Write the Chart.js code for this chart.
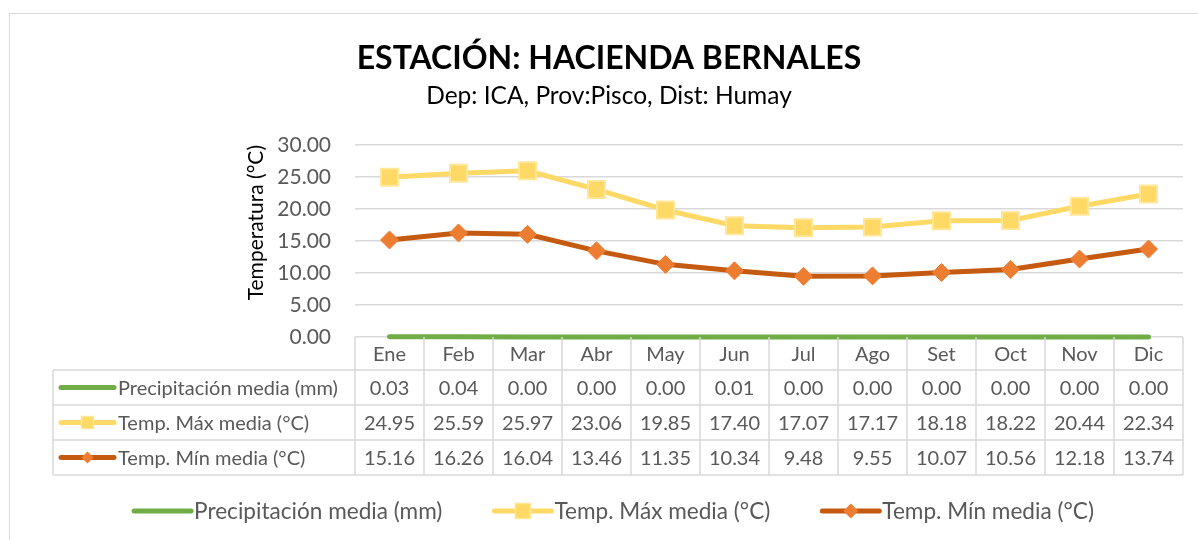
<!DOCTYPE html>
<html>
<head>
<meta charset="utf-8">
<script src="https://cdn.jsdelivr.net/npm/chart.js@4.4.1/dist/chart.umd.min.js"></script>
<style>
  html, body { margin: 0; padding: 0; background: #fff; }
  #wrap { position: relative; width: 1198px; height: 540px; }
</style>
</head>
<body>
<div id="wrap"><canvas id="c" width="1198" height="540"></canvas></div>
<script>
const months = ['Ene','Feb','Mar','Abr','May','Jun','Jul','Ago','Set','Oct','Nov','Dic'];
const precipitacion = [0.03,0.04,0.00,0.00,0.00,0.01,0.00,0.00,0.00,0.00,0.00,0.00];
const tempMax = [24.95,25.59,25.97,23.06,19.85,17.40,17.07,17.17,18.18,18.22,20.44,22.34];
const tempMin = [15.16,16.26,16.04,13.46,11.35,10.34,9.48,9.55,10.07,10.56,12.18,13.74];
const seriesNames = ['Precipitación media (mm)','Temp. Máx media (°C)','Temp. Mín media (°C)'];
const yTickMin = 0, yTickMax = 30, yTickStep = 5;

const FONT = 'Lato';
const GREY = '#595959';
const LINEC = '#D9D9D9';

function drawKey(ctx, ds, x0, x1, y, scale) {
  ctx.save();
  ctx.strokeStyle = ds.borderColor;
  ctx.lineWidth = 5;
  ctx.lineCap = 'round';
  ctx.beginPath(); ctx.moveTo(x0, y); ctx.lineTo(x1, y); ctx.stroke();
  const cx = (x0 + x1) / 2;
  if (ds.pointStyle === 'rect' && ds.pointRadius > 0) {
    const s = 5 * scale;
    ctx.fillStyle = ds.pointBackgroundColor;
    ctx.fillRect(cx - s, y - s, 2 * s, 2 * s);
    ctx.strokeStyle = ds.pointBorderColor; ctx.lineWidth = 1.5;
    ctx.strokeRect(cx - s, y - s, 2 * s, 2 * s);
  } else if (ds.pointStyle === 'rectRot' && ds.pointRadius > 0) {
    const s = 5 * scale;
    ctx.fillStyle = ds.pointBackgroundColor;
    ctx.beginPath();
    ctx.moveTo(cx - s, y); ctx.lineTo(cx, y - s); ctx.lineTo(cx + s, y); ctx.lineTo(cx, y + s);
    ctx.closePath(); ctx.fill();
  }
  ctx.restore();
}

const tablePlugin = {
  id: 'dataTable',
  beforeDraw(chart) {
    const ctx = chart.ctx;
    ctx.save();
    ctx.strokeStyle = LINEC; ctx.lineWidth = 1;
    ctx.strokeRect(9.5, 13.5, 1200, 600);
    ctx.restore();
  },
  afterDraw(chart) {
    const ctx = chart.ctx;
    const xs = chart.scales.x;
    const ca = chart.chartArea;
    const n = months.length;
    const w = xs.getPixelForValue(1) - xs.getPixelForValue(0);
    const colL = i => xs.getPixelForValue(i) - w / 2;
    const right = xs.getPixelForValue(n - 1) + w / 2;
    const top = ca.bottom;
    const hdrB = top + 33;
    const rowH = 35;
    const tblLeft = 53;
    const bottom = hdrB + rowH * chart.data.datasets.length;

    ctx.save();
    ctx.strokeStyle = LINEC; ctx.lineWidth = 1.5;
    ctx.beginPath();
    for (let i = 0; i <= n; i++) {
      const x = i < n ? colL(i) : right;
      ctx.moveTo(x, top); ctx.lineTo(x, bottom);
    }
    ctx.moveTo(tblLeft, hdrB); ctx.lineTo(tblLeft, bottom);
    for (let r = 0; r <= chart.data.datasets.length; r++) {
      const y = hdrB + r * rowH;
      ctx.moveTo(tblLeft, y); ctx.lineTo(right, y);
    }
    ctx.stroke();

    ctx.fillStyle = GREY;
    ctx.textBaseline = 'middle';
    ctx.textAlign = 'center';
    ctx.font = '20px ' + FONT;
    months.forEach((m, i) => ctx.fillText(m, xs.getPixelForValue(i), (top + hdrB) / 2 + 1));

    chart.data.datasets.forEach((ds, r) => {
      const yc = hdrB + r * rowH + rowH / 2 + 1;
      ctx.font = '20px ' + FONT;
      ctx.fillStyle = GREY;
      ctx.textAlign = 'center';
      ds.data.forEach((v, i) => ctx.fillText(v.toFixed(2), xs.getPixelForValue(i), yc));
      drawKey(ctx, ds, 61, 114, yc - 1, 1.2);
      ctx.fillStyle = GREY;
      ctx.textAlign = 'left';
      ctx.fillText(ds.label, 118, yc);
    });

    // bottom legend
    ctx.font = '22.6px ' + FONT;
    const keyW = 57, gapKT = 3, gapItem = 52;
    const items = chart.data.datasets.map(ds => ({ ds, tw: ctx.measureText(ds.label).width }));
    const total = items.reduce((a, it) => a + keyW + gapKT + it.tw, 0) + gapItem * (items.length - 1);
    let x = 614 - total / 2;
    const ly = 511;
    items.forEach(it => {
      drawKey(ctx, it.ds, x, x + keyW, ly, 1.5);
      ctx.fillStyle = GREY; ctx.textAlign = 'left';
      ctx.fillText(it.ds.label, x + keyW + gapKT, ly + 1);
      x += keyW + gapKT + it.tw + gapItem;
    });
    ctx.restore();
  }
};

new Chart(document.getElementById('c'), {
  type: 'line',
  data: {
    labels: months,
    datasets: [
      { label: seriesNames[0], data: precipitacion, borderColor: '#70AD47', backgroundColor: '#70AD47',
        borderWidth: 5, pointRadius: 0, pointHoverRadius: 0, borderCapStyle: 'round', clip: false, order: 1 },
      { label: seriesNames[1], data: tempMax, borderColor: '#FFD966', backgroundColor: '#FFD966',
        borderWidth: 5, pointStyle: 'rect', pointRadius: 12, pointHoverRadius: 12,
        pointBackgroundColor: '#FFD966', pointBorderColor: '#FFE699', pointBorderWidth: 2, clip: false, order: 3 },
      { label: seriesNames[2], data: tempMin, borderColor: '#C55A11', backgroundColor: '#ED7D31',
        borderWidth: 5, pointStyle: 'rectRot', pointRadius: 9, pointHoverRadius: 9,
        pointBackgroundColor: '#ED7D31', pointBorderColor: '#ED7D31', pointBorderWidth: 1, clip: false, order: 2 }
    ]
  },
  options: {
    responsive: false,
    animation: false,
    layout: { padding: { left: 35, right: 15, top: 0, bottom: 203 } },
    plugins: {
      legend: { display: false },
      tooltip: { enabled: false },
      title: { display: true, text: 'ESTACIÓN: HACIENDA BERNALES', color: '#000',
        font: { family: FONT, size: 32, weight: 'bold' }, padding: { top: 39, bottom: 0 } },
      subtitle: { display: true, text: 'Dep: ICA, Prov:Pisco, Dist: Humay', color: '#000',
        font: { family: FONT, size: 24.5 }, padding: { top: 4, bottom: 34.2 } }
    },
    scales: {
      x: { type: 'category', display: false, offset: true },
      y: {
        min: yTickMin, max: yTickMax,
        ticks: { stepSize: yTickStep, callback: v => Number(v).toFixed(2), color: GREY,
          font: { family: FONT, size: 21 }, padding: 24 },
        grid: { color: LINEC, lineWidth: 1.5, drawTicks: false },
        border: { display: false },
        title: { display: true, text: 'Temperatura (°C)', color: '#000', align: 'end',
          font: { family: FONT, size: 21 }, padding: { top: 209, bottom: 0 } },
        afterFit(s) { s.width = 320; }
      }
    }
  },
  plugins: [tablePlugin]
});
</script>
</body>
</html>
